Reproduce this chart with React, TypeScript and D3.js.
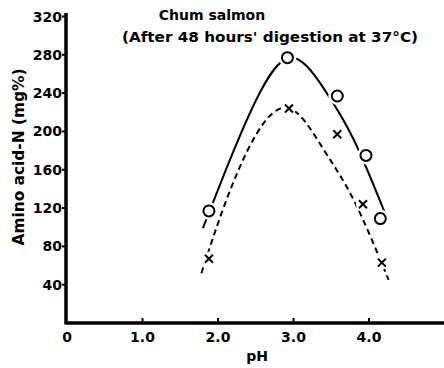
import React from "react";
import * as d3 from "d3";

// measured points
const circlePH = [1.88, 2.92, 3.58, 3.96, 4.15];
const circleN = [117, 277, 237, 175, 109];
const crossPH = [1.88, 2.94, 3.58, 3.92, 4.17];
const crossN = [67, 224, 197, 124, 63];

// hand-drawn fitted curves
const solidPH = [1.8, 2.1, 2.5, 2.95, 3.4, 3.8, 4.21];
const solidN = [99, 159, 232, 277, 245, 191, 115];
const dashPH = [1.78, 2.1, 2.5, 2.95, 3.4, 3.8, 4.26];
const dashN = [52, 126, 196, 224, 181, 128, 45];

const yTicks = [40, 80, 120, 160, 200, 240, 280, 320];
const xTicks = [0, 1, 2, 3, 4];
const xTickLabels = ["0", "1.0", "2.0", "3.0", "4.0"];

const W = 444;
const H = 368;
const FONT = "'DejaVu Sans', sans-serif";

export default function App() {
  const x = d3.scaleLinear().domain([0, 5]).range([67, 444.5]);
  const y = d3.scaleLinear().domain([0, 320]).range([323, 16.5]);

  const line = d3
    .line<[number, number]>()
    .x((d) => x(d[0]))
    .y((d) => y(d[1]))
    .curve(d3.curveNatural);

  const solid = line(solidPH.map((p, i) => [p, solidN[i]]));
  const dashed = line(dashPH.map((p, i) => [p, dashN[i]]));

  return (
    <svg
      width={W}
      height={H}
      style={{ position: "absolute", left: 0, top: 0, background: "#fff" }}
      fontFamily={FONT}
    >
      {/* axes */}
      <line x1={x(0) - 1} x2={W} y1={y(0)} y2={y(0)} stroke="#000" strokeWidth={3.5} />
      <line x1={x(0) - 1} x2={x(0) - 1} y1={y(0) + 1.5} y2={13} stroke="#000" strokeWidth={3.5} />

      {yTicks.map((t) => (
        <g key={t}>
          <line x1={x(0) - 5} x2={x(0)} y1={y(t)} y2={y(t)} stroke="#000" strokeWidth={2} />
          <text
            x={x(0) - 5}
            y={y(t)}
            dy="0.36em"
            textAnchor="end"
            fontSize={14}
            fontWeight="bold"
          >
            {t}
          </text>
        </g>
      ))}

      {xTicks.map((t, i) => (
        <g key={t}>
          {t > 0 && (
            <line x1={x(t)} x2={x(t)} y1={y(0)} y2={y(0) - 5} stroke="#000" strokeWidth={2} />
          )}
          <text
            x={x(t)}
            y={y(0) + 19}
            textAnchor="middle"
            fontSize={14}
            fontWeight="bold"
          >
            {xTickLabels[i]}
          </text>
        </g>
      ))}

      <text x={257} y={361} textAnchor="middle" fontSize={14} fontWeight="bold">
        pH
      </text>
      <text
        transform={`translate(24,157) rotate(-90)`}
        textAnchor="middle"
        fontSize={15}
        fontWeight="bold"
        textLength={177}
        lengthAdjust="spacingAndGlyphs"
      >
        Amino acid-N (mg%)
      </text>

      {/* title */}
      <text x={212} y={20} textAnchor="middle" fontSize={14} fontWeight="bold">
        Chum salmon
      </text>
      <text x={270} y={42} textAnchor="middle" fontSize={14} fontWeight="bold" textLength={296} lengthAdjust="spacingAndGlyphs">
        (After 48 hours' digestion at 37°C)
      </text>

      {/* curves */}
      <path d={solid ?? ""} fill="none" stroke="#000" strokeWidth={2} />
      <path d={dashed ?? ""} fill="none" stroke="#000" strokeWidth={2} strokeDasharray="6,4" />

      {/* markers with white halos to break lines */}
      {circlePH.map((p, i) => (
        <g key={"c" + i}>
          <circle cx={x(p)} cy={y(circleN[i])} r={9} fill="#fff" />
          <circle cx={x(p)} cy={y(circleN[i])} r={5.5} fill="#fff" stroke="#000" strokeWidth={2} />
        </g>
      ))}
      {crossPH.map((p, i) => {
        const cx = x(p);
        const cy = y(crossN[i]);
        const s = 4;
        return (
          <g key={"x" + i}>
            <circle cx={cx} cy={cy} r={7} fill="#fff" />
            <line x1={cx - s} x2={cx + s} y1={cy - s} y2={cy + s} stroke="#000" strokeWidth={2} />
            <line x1={cx - s} x2={cx + s} y1={cy + s} y2={cy - s} stroke="#000" strokeWidth={2} />
          </g>
        );
      })}
    </svg>
  );
}
